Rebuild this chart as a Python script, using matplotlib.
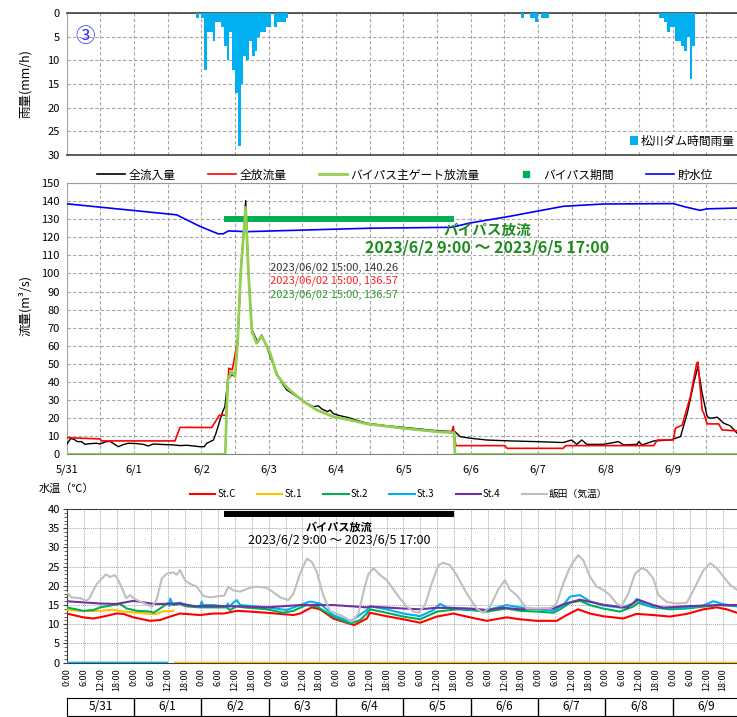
import numpy as np
import matplotlib
matplotlib.use('Agg')
import matplotlib.pyplot as plt
from matplotlib.lines import Line2D
from matplotlib.patches import Patch
from matplotlib.ticker import MultipleLocator

plt.rcParams['font.family'] = ['Noto Sans CJK JP', 'DejaVu Sans']

nan = np.nan

# time axis: hours elapsed since 5/31 0:00
day_labels = ['5/31', '6/1', '6/2', '6/3', '6/4', '6/5', '6/6', '6/7', '6/8', '6/9']
hour_labels = ['0:00', '6:00', '12:00', '18:00']

# 松川ダム時間雨量 (mm/h)
rain_hour = [46, 48, 49, 50, 51, 52, 53, 54, 55, 56, 57, 58, 59, 60, 61, 62, 63, 64,
             65, 66, 67, 68, 69, 70, 71, 72, 74, 75, 76, 77, 78,
             162, 165, 166, 167, 169, 170, 171,
             211, 212, 213, 214, 215, 216, 217, 218, 219, 220, 221, 222, 223]
rain_mm = [1, 1, 12, 4, 4, 6, 2, 2, 3, 7, 10, 4, 12, 17, 28, 15, 9, 10,
           6, 9, 8, 5, 4, 4, 3, 3, 3, 2, 2, 2, 1,
           1, 1, 1, 2, 1, 1, 1,
           1, 1, 2, 4, 3, 3, 6, 6, 7, 8, 5, 14, 7]

# 全流入量 (m3/s)
inflow_t = [0, 1.4, 2.6, 3.8, 5.3, 6.5, 8.3, 10.7, 11.9, 13.7, 15.4, 16.9, 18.4, 20.2, 22,
            25, 27.3, 29.1, 30.9, 34.5, 38, 40.4, 42.8, 45.2, 47.5, 49, 49.9, 52.3, 53.2,
            54.1, 55.6, 56.4, 57.4, 58.8, 60, 61, 62, 63.8, 64.8, 66, 67.5, 68.2, 69.5,
            71.3, 73, 74.9, 76.5, 78.4, 80, 82, 84, 85.6, 88, 89.7, 91, 93, 93.9, 95, 97,
            100.4, 103, 107, 110, 114, 118, 122, 126, 130, 134, 137.2, 138.4, 140.2,
            143.8, 149.7, 158, 167.6, 177, 180, 181.8, 183.6, 185.4, 191.3, 196.7, 198.5,
            203.3, 203.9, 205.1, 209.3, 215.2, 218.8, 221.2, 223.5, 225, 226.5, 228.3,
            229.5, 231.9, 234.2, 236.6, 239, 240]
inflow_q = [5.5, 8.7, 8.3, 7.0, 7.0, 5.5, 5.9, 6.1, 5.7, 6.8, 7.2, 5.7, 4.2, 5.4, 6.1,
            5.9, 5.5, 4.6, 5.7, 5.4, 5.2, 4.8, 5.0, 4.6, 4.2, 4.2, 6.1, 7.9, 11.6,
            16.2, 23.6, 26.4, 41.1, 43.9, 43.0, 62, 100, 140.26, 100, 69, 64, 62, 66,
            59.6, 52, 44.8, 40, 35.6, 34, 31.9, 30, 28.2, 26.3, 26.8, 25, 23.6, 24.5, 22.5, 21.5,
            20.3, 19, 17.2, 16.6, 15.8, 15.2, 14.6, 14.0, 13.3, 12.9, 12.6, 12.5, 9.8,
            8.9, 7.9, 7.4, 7.0, 6.5, 7.9, 5.5, 7.9, 5.5, 5.5, 7.0, 5.2,
            5.5, 7.0, 5.2, 7.4, 7.9, 9.8, 22.7, 39.3, 48.5, 33.8, 20.8,
            19.9, 20.5, 17.2, 15.7, 11.6, 11.0]

# 全放流量 (m3/s)
outflow_t = [0, 11.9, 12.5, 38.6, 40.4, 51.7, 54.4, 56.8, 57.8, 59, 60, 61, 62, 63.8, 64.8,
             66, 67.7, 69.5, 72.5, 74.9, 78.4, 80.8, 84.4, 89.1, 95, 101, 107, 120, 131.9,
             137.2, 137.8, 138.7, 156.2, 157, 177, 177.8, 209.3, 210.5, 216.2, 217, 219.4,
             222.3, 224.6, 225, 226.5, 227.1, 228.3, 232.4, 233.6, 237.2, 240]
outflow_q = [9.2, 8.5, 7.4, 7.4, 14.9, 14.8, 21.6, 21.6, 47.6, 46.7, 55, 65, 100, 136.57, 100,
             68, 61.4, 65.5, 56, 43.9, 37, 33.8, 29.2, 24.5, 20.8, 19, 16.8, 14.4, 12.5,
             12, 15.5, 4.8, 4.8, 3.3, 3.3, 4.8, 4.8, 7.9, 7.9, 14.4, 16.2,
             31.9, 50.4, 51, 24.5, 22.7, 16.8, 16.8, 13.5, 13.1, 13.0]

# バイパス主ゲート放流量 (m3/s)
bypass_t = [0, 56.5, 57.4, 58.8, 60, 61, 62, 63.8, 64.8, 66, 67.7, 69.5, 72.5, 74.9, 78.4,
            80.8, 84.4, 89.1, 95, 101, 107, 120, 131.9, 137.2, 138.1, 138.4, 240]
bypass_q = [0, 0, 41, 45.8, 43, 65, 100, 136.57, 100, 68, 61.4, 65.5, 56, 43.9, 37,
            33.8, 29.2, 24.5, 20.8, 19, 16.8, 14.4, 12.5, 12, 12, 0, 0]

# 貯水位
level_t = [0, 39.2, 47.5, 54, 55.8, 57.6, 64.2, 108, 137.2, 143.8, 158, 167.6, 177, 191.3,
           216.3, 220.4, 225.8, 228.1, 240]
level_v = [138.5, 132.4, 126, 121.9, 121.9, 123.5, 123.1, 125, 125.5, 127.9, 131.6, 134.4,
           137.1, 138.4, 138.6, 136.8, 134.9, 135.7, 136.2]

# バイパス期間 (6/2 9:00 - 6/5 17:00)
bypass_period = [57, 137]
bypass_flag = 130
bypass_title = 'バイパス放流'
bypass_span = '2023/6/2 9:00 ～ 2023/6/5 17:00'
peak_labels = ['2023/06/02 15:00, 140.26', '2023/06/02 15:00, 136.57', '2023/06/02 15:00, 136.57']

# 水温 (℃)
stc_t = [0, 5.9, 9.5, 13, 17.8, 20.2, 23.8, 29.7, 33.3, 36.8, 40.4, 47.5, 52.3, 56, 60.6,
         65.4, 71.3, 80.8, 83.2, 87.3, 90.3, 95, 101, 102.5, 107, 108.1, 114, 120, 126,
         131.9, 137.8, 143.8, 149.7, 156.8, 161.6, 167.5, 174.7, 178.2, 182.3, 186.5,
         191.2, 198.4, 203.1, 209.1, 215, 221, 227, 231.7, 235.2, 238.9, 240]
stc_v = [12.8, 11.8, 11.5, 12.0, 12.8, 12.7, 11.8, 10.9, 11.1, 12.0, 12.8, 12.4, 12.8, 12.8, 13.5,
         13.3, 13.0, 12.4, 12.8, 14.4, 13.9, 11.5, 10.1, 9.8, 11.5, 13.0, 12.1, 11.3, 10.4,
         12.0, 12.8, 11.8, 10.9, 11.8, 11.3, 10.9, 10.9, 12.4, 13.9, 12.8,
         12.1, 11.5, 12.7, 12.4, 12.0, 12.7, 13.9, 14.4, 13.9, 13.0, 12.8]

st1_t = [0, 5.9, 11.9, 16.6, 19, 23.8, 29.7, 32, 34.5, 38, 38.3, 38.6, 240]
st1_v = [13.8, 13.4, 13.5, 13.8, 13.4, 13.1, 12.7, 12.7, 13.4, 13.5, nan, 0, 0]

st2_t = [0, 5.9, 9.5, 11.9, 16.6, 19, 21.4, 25, 29.7, 31, 33.9, 36.2, 38, 40.4, 42.2, 47.5,
         53.5, 57, 58.2, 60.6, 63, 71.3, 77.2, 80.8, 85.4, 89, 95, 101, 104.6, 107, 108.1,
         114, 120, 126, 132, 139, 143.8, 149.7, 156.8, 161.6, 167.5, 173.5, 175.9, 179.4,
         183, 186.5, 191.2, 197.2, 201.9, 203.7, 209.1, 215, 221, 227, 232.9, 238.9, 240]
st2_v = [14.4, 13.5, 13.7, 14.4, 15.0, 15.3, 14.1, 13.5, 13.3, 13.0, 14.4, 15.6, 15.0, 15.3, 14.7, 14.4,
         14.4, 14.4, 13.7, 14.7, 14.4, 13.9, 13.0, 13.5, 15.0, 14.7, 12.0, 10.2, 11.1, 12.8, 13.9,
         13.0, 12.0, 11.3, 13.3, 13.9, 13.7, 13.3, 14.1, 13.5, 13.3, 13.0, 13.9, 15.6,
         16.1, 15.0, 14.1, 13.3, 14.6, 15.6, 14.4, 13.9, 14.1, 14.6, 15.0, 14.7, 14.7]

st3_t = [0, 35.7, 36.2, 36.6, 36.9, 37.7, 40.4, 42.8, 47.5, 48.1, 48.6, 52.3, 57, 57.4, 58,
         59.4, 60.6, 61.8, 71.3, 78.4, 83.2, 86.7, 90.3, 95, 101, 107, 108.1, 114, 120, 126,
         130.7, 133.1, 135.5, 143.8, 149.7, 156.8, 161.6, 167.5, 173.5, 177, 179.4, 182.9,
         186.5, 191.2, 197.8, 201.9, 203.1, 206.7, 212.7, 221, 227, 230.5, 234.1, 238.9, 240]
st3_v = [0, 0, nan, 14.8, 16.7, 15.3, 15.6, 15.0, 14.6, 15.9, 15.0, 15.0, 14.6, 15.4, 14.6,
         15.6, 16.3, 15.0, 14.4, 13.7, 15.0, 15.9, 15.4, 12.4, 10.7, 13.7, 14.7, 13.9, 12.8, 12.1,
         13.7, 15.3, 14.4, 13.9, 13.7, 15.0, 14.4, 13.9, 13.5, 15.0, 17.2, 17.6,
         16.0, 14.9, 14.3, 15.4, 16.6, 14.9, 14.3, 14.3, 14.9, 16.0, 15.2, 14.7, 14.6]

st4_t = [0, 11.9, 17.8, 23.8, 30.9, 36, 40.4, 45.2, 59.4, 71.3, 83.2, 95, 101, 107, 108.1,
         120, 126, 131.9, 143.8, 149.7, 155.6, 161.6, 173.5, 177, 182.9, 191.2, 199.6, 203.7,
         209.1, 212.7, 221, 232.9, 240]
st4_v = [16.0, 15.4, 15.3, 16.1, 15.3, 15.3, 15.4, 14.7, 14.7, 14.4, 15.0, 15.0, 14.7, 14.4, 14.6,
         14.1, 13.9, 14.3, 14.1, 13.7, 14.3, 13.9, 14.1, 15.2, 16.4, 15.1, 14.3, 16.4,
         15.0, 14.3, 14.7, 15.0, 15.0]

# 飯田 気温 (℃)
air_t = [0, 1.8, 4.8, 6.9, 8.1, 10.7, 12.5, 14.0, 15.4, 16.9, 17.8, 19.6, 21.2, 22.6, 23.8,
         26.1, 29.1, 30.3, 32.1, 33.9, 35.7, 38.0, 39.2, 40.4, 42.2, 44.0, 46.3, 48.7, 51.1,
         54.7, 56.1, 57.6, 59.4, 61.8, 65.4, 67.7, 71.3, 73.7, 76.1, 79.0, 80.8, 83.2, 85.6,
         87.3, 89.1, 91.5, 93.9, 96.3, 98.6, 101.6, 104, 106, 107.5, 109.3, 111.7, 114.1,
         116.5, 118.8, 121.2, 123.6, 125.4, 127.7, 130.1, 132.5, 134.2, 136.6, 139, 142.6,
         146.1, 148.5, 150.9, 153.8, 156.2, 158, 160.4, 163.9, 167.5, 172.3, 174.6, 177,
         179.4, 182.3, 184.1, 186.5, 188.9, 191.2, 193.6, 196, 197.8, 200.2, 202.6, 204.9,
         206.7, 209.1, 210.9, 213.9, 217.4, 221, 222.8, 225.2, 227, 229.4, 231.7, 234.1,
         236.5, 238.9, 240]
air_v = [18.3, 17.0, 16.8, 16.1, 16.8, 20.5, 21.9, 23.0, 22.3, 22.8, 22.3, 19.6, 16.8, 17.6, 16.8,
         15.9, 15.0, 14.5, 16.5, 21.9, 23.2, 23.5, 22.9, 24.1, 21.4, 20.5, 19.8, 17.4, 17.0,
         17.4, 17.4, 19.8, 18.8, 18.5, 19.5, 19.8, 19.5, 18.3, 17.0, 16.3, 17.9, 23.2, 27.1,
         26.3, 23.7, 17.4, 13.4, 12.8, 12.0, 10.7, 12.8, 19.0, 23.0, 24.6, 22.8, 21.5,
         19.0, 16.7, 14.6, 13.3, 13.0, 15.0, 20.6, 25.4, 26.0, 25.4, 22.8, 18.0,
         14.1, 13.0, 14.6, 19.0, 21.5, 19.0, 17.6, 14.1, 14.1, 14.1, 15.4, 20.6,
         24.9, 28.0, 26.7, 22.4, 19.8, 19.0, 17.6, 15.4, 14.7, 18.0, 23.2, 24.6,
         24.1, 21.9, 17.6, 15.8, 15.4, 15.6, 18.0, 21.5, 24.1, 25.9, 24.6, 22.4,
         20.2, 19.0, 18.6]

temp_series = [('St.C', stc_t, stc_v, '#FF0000'),
               ('St.1', st1_t, st1_v, '#FFC000'),
               ('St.2', st2_t, st2_v, '#00B050'),
               ('St.3', st3_t, st3_v, '#00B0F0'),
               ('St.4', st4_t, st4_v, '#7030A0'),
               ('飯田（気温）', air_t, air_v, '#BFBFBF')]

W, H = 737, 717
fig = plt.figure(figsize=(W / 100, H / 100), dpi=100)


def px_axes(left, top, right, bottom):
    return fig.add_axes([left / W, 1 - bottom / H, (right - left) / W, (bottom - top) / H])


grid_kw = dict(color='#A6A6A6', lw=0.8, ls=(0, (3, 2)))

# ---- 雨量 ----
ax_r = px_axes(66.7, 13, 740, 155)
ax_r.bar(rain_hour, rain_mm, width=1.0, align='edge', color='#00B0F0', zorder=3)
ax_r.set_xlim(0, 240)
ax_r.set_ylim(30, 0)
ax_r.set_yticks(range(0, 31, 5))
ax_r.xaxis.set_major_locator(MultipleLocator(12))
ax_r.set_xticklabels([])
ax_r.tick_params(length=0, labelsize=8, pad=5)
ax_r.grid(True, **grid_kw)
ax_r.spines['right'].set_visible(False)
ax_r.spines['top'].set_color('#404040')
ax_r.spines['bottom'].set_color('#404040')
ax_r.spines['top'].set_linewidth(1.2)
ax_r.spines['bottom'].set_linewidth(1.2)
ax_r.spines['left'].set_color('#A6A6A6')
ax_r.set_ylabel('雨量(mm/h)', fontsize=9)
ax_r.yaxis.set_label_coords(-0.052, 0.5)
ax_r.legend(handles=[Patch(facecolor='#00B0F0')], labels=['松川ダム時間雨量'],
            loc='center right', bbox_to_anchor=(1.0, 1 - 141 / H), bbox_transform=fig.transFigure,
            handlelength=0.7, handleheight=0.7, handletextpad=0.2, borderpad=0.2,
            borderaxespad=0, fontsize=8.5, frameon=True, fancybox=False,
            facecolor='white', edgecolor='none', framealpha=1)
fig.text(85 / W, 1 - 36 / H, '③', color='#2424FF', fontsize=14, ha='center', va='center')

# ---- 流量 ----
ax_q = px_axes(66.7, 183, 740, 454.3)
ax_q.plot(level_t, level_v, color='#0000FF', lw=1.2, zorder=3)
ax_q.plot(bypass_period, [bypass_flag, bypass_flag], color='#00B050', lw=4.3,
          solid_capstyle='projecting', zorder=3)
ax_q.plot(inflow_t, inflow_q, color='black', lw=1.0, zorder=4)
ax_q.plot(outflow_t, outflow_q, color='#FF0000', lw=1.2, zorder=5)
ax_q.plot(bypass_t, bypass_q, color='#92D050', lw=2.0, zorder=6)
ax_q.set_xlim(0, 240)
ax_q.set_ylim(0, 150)
ax_q.set_yticks(range(0, 151, 10))
ax_q.set_xticks(range(0, 240, 24))
ax_q.set_xticklabels(day_labels)
ax_q.xaxis.set_minor_locator(MultipleLocator(12))
ax_q.tick_params(which='both', length=0, labelsize=8, pad=5)
ax_q.tick_params(axis='x', pad=7)
ax_q.grid(True, which='both', axis='x', **grid_kw)
ax_q.grid(True, which='major', axis='y', **grid_kw)
ax_q.spines['right'].set_visible(False)
ax_q.spines['top'].set_color('#999999')
ax_q.spines['left'].set_color('#A6A6A6')
ax_q.spines['bottom'].set_color('#808080')
ax_q.set_ylabel('流量(m³/s)', fontsize=9)
ax_q.yaxis.set_label_coords(-0.052, 0.55)

ax_q.text(150, 124.1, bypass_title, color='#1E8C1E', fontsize=10.5, fontweight='bold',
          ha='center', va='center')
ax_q.text(150, 114.2, bypass_span, color='#1E8C1E', fontsize=11.5, fontweight='bold',
          ha='center', va='center')
for lbl, yv, col in zip(peak_labels, [103.3, 96.1, 88.2], ['#333333', '#FF2020', '#2E9B2E']):
    ax_q.text(72.5, yv, lbl, color=col, fontsize=8, ha='left', va='center')

q_handles = [Line2D([], [], color='black', lw=1.2),
             Line2D([], [], color='#FF0000', lw=1.2),
             Line2D([], [], color='#92D050', lw=2.0),
             Line2D([], [], color='#00B050', marker='s', ls='none', markersize=5),
             Line2D([], [], color='#0000FF', lw=1.2)]
q_labels = ['全流入量', '全放流量', 'バイパス主ゲート放流量', 'バイパス期間', '貯水位']
fig.legend(q_handles, q_labels, ncol=5, loc='center left', bbox_to_anchor=(97 / W, 1 - 175 / H),
           fontsize=8.5, handlelength=2.4, handletextpad=0.3, columnspacing=2.7,
           frameon=False, borderpad=0, borderaxespad=0)

# ---- 水温 ----
ax_t = px_axes(66.7, 509, 740, 662.7)
for name, tt, vv, col in temp_series:
    ax_t.plot(tt, vv, color=col, lw=1.5, label=name, zorder=3)
ax_t.plot(bypass_period, [38.7, 38.7], color='black', lw=4.3, solid_capstyle='projecting', zorder=4)
ax_t.text(97.1, 35.3, bypass_title, color='black', fontsize=8, fontweight='bold',
          ha='center', va='center')
ax_t.text(97.1, 31.7, bypass_span, color='black', fontsize=9, ha='center', va='center')
ax_t.set_xlim(0, 240)
ax_t.set_ylim(0, 40)
ax_t.yaxis.set_major_locator(MultipleLocator(5))
ax_t.yaxis.set_minor_locator(MultipleLocator(1))
ax_t.xaxis.set_minor_locator(MultipleLocator(6))
ax_t.set_xticks(range(0, 240, 6))
ax_t.set_xticklabels([hour_labels[(h // 6) % 4] for h in range(0, 240, 6)],
                     rotation=90, fontsize=6.5)
ax_t.tick_params(axis='x', which='both', length=0, pad=4)
ax_t.tick_params(axis='y', which='major', length=3, labelsize=8, pad=2, color='#404040')
ax_t.tick_params(axis='y', which='minor', length=2, color='#404040')
ax_t.grid(True, which='major', color='#A6A6A6', lw=0.7, ls=(0, (1, 1)))
ax_t.grid(True, which='minor', axis='x', color='#A6A6A6', lw=0.7, ls=(0, (1, 1)))
ax_t.spines['right'].set_visible(False)
for s in ['top', 'left', 'bottom']:
    ax_t.spines[s].set_color('#404040')
fig.text(39 / W, 1 - 489 / H, '水温（℃）', fontsize=8, ha='left', va='center')
t_handles = [Line2D([], [], color=c, lw=1.5) for _, _, _, c in temp_series]
fig.legend(t_handles, [n for n, _, _, _ in temp_series], ncol=6, loc='center left',
           bbox_to_anchor=(190 / W, 1 - 494 / H), fontsize=7, handlelength=2.6,
           handletextpad=0.2, columnspacing=2.2, frameon=False, borderpad=0, borderaxespad=0)

# ---- 日付欄 ----
ax_d = px_axes(66.7, 698, 740, 716)
ax_d.set_xlim(0, 240)
ax_d.set_ylim(0, 1)
ax_d.vlines(range(24, 240, 24), 0, 1, color='black', lw=1)
for i, lbl in enumerate(day_labels):
    ax_d.text(24 * i + 12, 0.5, lbl, fontsize=8.5, ha='center', va='center')
ax_d.set_xticks([])
ax_d.set_yticks([])
for s in ax_d.spines.values():
    s.set_color('black')

fig.savefig('out.png', dpi=100)
